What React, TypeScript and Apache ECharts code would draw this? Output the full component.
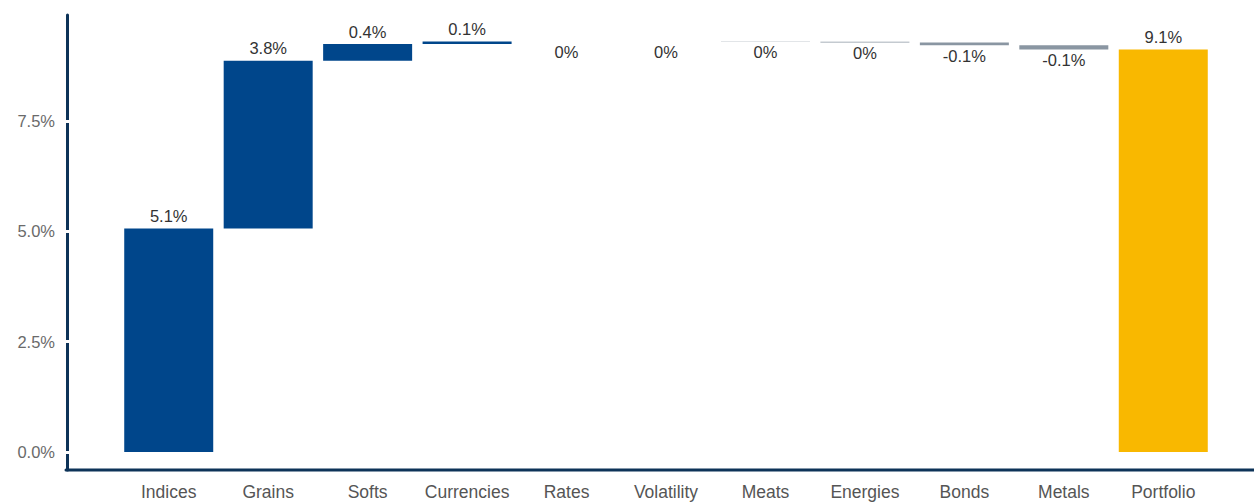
import React, { useEffect, useRef } from "react";
import * as echarts from "echarts";

const categories = [
  "Indices",
  "Grains",
  "Softs",
  "Currencies",
  "Rates",
  "Volatility",
  "Meats",
  "Energies",
  "Bonds",
  "Metals",
  "Portfolio",
];
// contribution of each sector (in %), Portfolio is their total
const contributions = [5.07, 3.8, 0.38, 0.06, 0, 0, -0.005, -0.02, -0.06, -0.1];
const yTicks = [0, 2.5, 5, 7.5];

const BLUE = "#00468b";
const GRAY = "#8a96a2";
const YELLOW = "#f9b800";
const AXIS = "#0d3358";
const FONT = "'Liberation Sans', Arial, Helvetica, sans-serif";

function fmt(v: number): string {
  const r = Math.round(v * 10) / 10;
  return (r === 0 ? "0" : r.toFixed(1)) + "%";
}

export default function App() {
  const ref = useRef<HTMLDivElement>(null);
  useEffect(() => {
    document.body.style.margin = "0";
    const chart = echarts.init(ref.current!, null, { renderer: "svg" });
    const total = contributions.reduce((a, b) => a + b, 0);
    const values = [...contributions, total];
    const base: number[] = [];
    const heights: number[] = [];
    let cum = 0;
    contributions.forEach((v) => {
      const end = cum + v;
      base.push(Math.min(cum, end));
      heights.push(Math.abs(v));
      cum = end;
    });
    base.push(0);
    heights.push(total);

    const last = values.length - 1;
    const visibleData = heights.map((h, i) => {
      const v = values[i];
      const color = i === last ? YELLOW : v > 0 ? BLUE : GRAY;
      return {
        value: h,
        itemStyle: { color },
        label: {
          position: v > 0.03 ? "top" : "bottom",
          distance: v > 0.03 ? 4 : 2,
        },
      };
    });

    const yMin = -0.41;
    const yMax = 9.91;

    chart.setOption({
      animation: false,
      grid: { left: 119, right: 41, top: 15, bottom: 32, containLabel: false },
      xAxis: {
        type: "category",
        data: categories,
        axisLine: { show: false },
        axisTick: { show: false },
        axisLabel: {
          color: "#555555",
          fontSize: 17.5,
          fontFamily: FONT,
          margin: 13,
          interval: 0,
        },
      },
      yAxis: [
        {
          type: "value",
          position: "left",
          min: yMin,
          max: yMax,
          offset: 52,
          z: 1,
          splitLine: { show: false },
          axisLine: {
            show: true,
            lineStyle: { color: AXIS, width: 3, cap: "round" },
          },
          axisTick: { show: false },
          axisLabel: {
            customValues: yTicks,
            formatter: (v: number) => v.toFixed(1) + "%",
            color: "#6a6a6a",
            fontSize: 16.5,
            fontFamily: FONT,
            margin: 12,
          },
        },
        {
          type: "value",
          position: "left",
          min: yMin,
          max: yMax,
          offset: 50,
          z: 20,
          splitLine: { show: false },
          axisLine: { show: false },
          axisLabel: { show: false },
          axisTick: {
            show: true,
            customValues: yTicks,
            length: 5,
            lineStyle: { color: "#ffffff", width: 3 },
          },
        },
      ],
      graphic: [
        {
          type: "line",
          shape: { x1: 66, y1: 470, x2: 1254, y2: 470 },
          style: { stroke: AXIS, lineWidth: 3, lineCap: "round" },
          z: 10,
        },
      ],
      series: [
        {
          type: "bar",
          stack: "w",
          data: base,
          barWidth: 89,
          itemStyle: { color: "transparent" },
          silent: true,
        },
        {
          type: "bar",
          stack: "w",
          data: visibleData,
          barWidth: 89,
          label: {
            show: true,
            formatter: (p: any) => fmt(values[p.dataIndex]),
            color: "#333333",
            fontSize: 16.5,
            fontFamily: FONT,
          },
        },
      ],
    });
    return () => chart.dispose();
  }, []);
  return <div ref={ref} style={{ width: 1254, height: 502 }} />;
}
